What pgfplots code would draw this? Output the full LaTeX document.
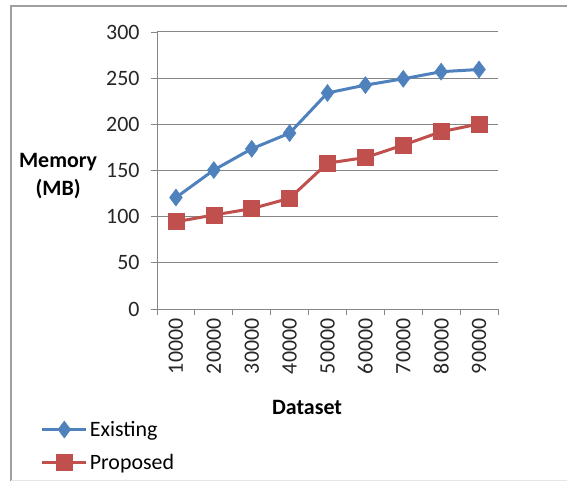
\documentclass[border=0pt]{standalone}
\usepackage{fontspec}
\setmainfont{Carlito}
\usepackage{pgfplots}
\pgfplotsset{compat=1.18}
\definecolor{exist}{RGB}{79,129,189}
\definecolor{prop}{RGB}{192,80,77}
\definecolor{gridc}{RGB}{134,134,134}
\begin{document}
\begin{tikzpicture}
\useasboundingbox (0,0) rectangle (567bp,481bp);
\draw[gray!75, line width=1.5bp] (11bp,0) -- (11bp,475bp) -- (567bp,475bp);
\draw[gray!20, line width=1bp] (11bp,1bp) -- (567bp,1bp);
\begin{axis}[
  at={(157bp,172bp)}, anchor=south west,
  scale only axis, width=341bp, height=277bp,
  xmin=-0.5, xmax=8.5, ymin=0, ymax=300,
  ytick={0,50,...,300},
  xtick={0,...,8},
  xticklabels={10000,20000,30000,40000,50000,60000,70000,80000,90000},
  minor xtick={-0.5,0.5,...,8.5},
  major x tick style={draw=none},
  minor tick length=6bp, major tick length=6bp,
  tick align=outside,
  tick style={gridc, line width=0.8bp},
  axis x line*=bottom, axis y line*=left,
  axis line style={gridc, line width=0.8bp},
  ymajorgrids, grid style={gridc, line width=1bp},
  font=\fontsize{22}{26}\selectfont,
  /pgf/number format/assume math mode=true,
  yticklabel style={color=black!85, xshift=-8bp},
  xticklabel style={rotate=90, anchor=east, color=black!85},
  xlabel={\textbf{Dataset}},
  xlabel style={at={(axis description cs:0.44,-0.357)}, anchor=center},
  ylabel={\textbf{Memory}\\\textbf{(MB)}},
  ylabel style={rotate=-90, at={(axis description cs:-0.29,0.48)}, anchor=center, align=center, font=\fontsize{22}{28}\selectfont},
  legend style={at={(axis description cs:-0.35,-0.39)}, anchor=north west, draw=none, fill=none, legend cell align=left, row sep=12bp, font=\fontsize{22}{26}\selectfont},
  legend image code/.code={\draw[mark repeat=2,mark phase=2,#1] plot coordinates {(0bp,0bp) (22bp,0bp) (44bp,0bp)};},
  clip=false,
]
\addplot[exist, line width=3bp, mark=diamond*, mark size=8.5bp, mark options={solid, fill=exist, line width=0.5bp}]
  coordinates {(0,120.7) (1,150.5) (2,173.5) (3,190.5) (4,234) (5,242.5) (6,249.3) (7,257) (8,259.4)};
\addplot[prop, line width=3bp, mark=square*, mark size=8bp, mark options={solid, fill=prop, line width=0.5bp}]
  coordinates {(0,94.5) (1,101.8) (2,108.7) (3,119.9) (4,158) (5,164) (6,177.5) (7,192) (8,200.4)};
\legend{Existing, Proposed}
\end{axis}
\end{tikzpicture}
\end{document}
